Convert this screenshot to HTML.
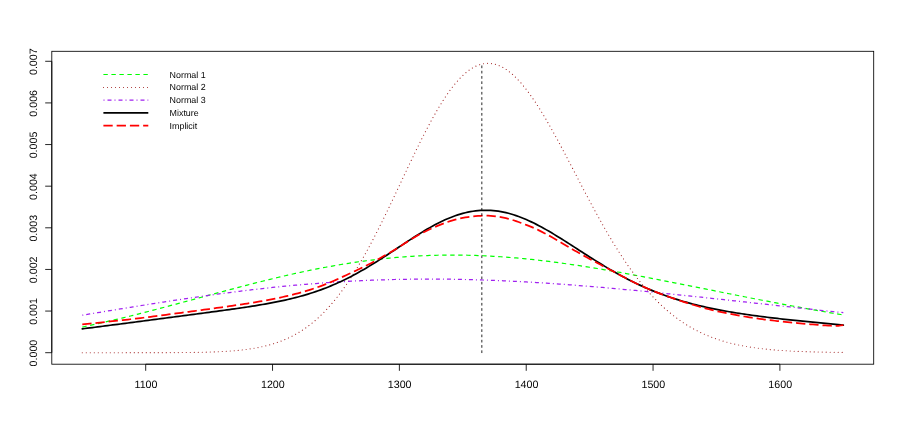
<!DOCTYPE html>
<html><head><meta charset="utf-8"><title>Mixture density plot</title>
<style>
html,body{margin:0;padding:0;background:#fff;}
body{width:900px;height:429px;overflow:hidden;position:relative;font-family:"Liberation Sans",sans-serif;}
</style></head><body>
<svg width="900" height="429" viewBox="0 0 900 429" style="position:absolute;left:0;top:0;display:block;will-change:transform">
<g fill="none" stroke-linecap="round" stroke-linejoin="round">
<path d="M82.28 327.05 L84.82 326.51 L87.35 325.97 L89.89 325.43 L92.43 324.87 L94.96 324.32 L97.50 323.75 L100.04 323.18 L102.57 322.61 L105.11 322.03 L107.65 321.44 L110.18 320.85 L112.72 320.26 L115.26 319.66 L117.80 319.05 L120.33 318.44 L122.87 317.83 L125.41 317.21 L127.94 316.58 L130.48 315.96 L133.02 315.33 L135.55 314.69 L138.09 314.05 L140.63 313.41 L143.16 312.76 L145.70 312.11 L148.24 311.46 L150.77 310.80 L153.31 310.14 L155.85 309.48 L158.38 308.81 L160.92 308.14 L163.46 307.47 L165.99 306.80 L168.53 306.13 L171.07 305.45 L173.60 304.77 L176.14 304.09 L178.68 303.41 L181.22 302.73 L183.75 302.04 L186.29 301.36 L188.83 300.67 L191.36 299.98 L193.90 299.30 L196.44 298.61 L198.97 297.92 L201.51 297.23 L204.05 296.55 L206.58 295.86 L209.12 295.17 L211.66 294.49 L214.19 293.80 L216.73 293.12 L219.27 292.44 L221.80 291.76 L224.34 291.08 L226.88 290.40 L229.41 289.73 L231.95 289.05 L234.49 288.38 L237.02 287.71 L239.56 287.05 L242.10 286.38 L244.64 285.72 L247.17 285.07 L249.71 284.41 L252.25 283.77 L254.78 283.12 L257.32 282.48 L259.86 281.84 L262.39 281.21 L264.93 280.58 L267.47 279.95 L270.00 279.33 L272.54 278.72 L275.08 278.11 L277.61 277.50 L280.15 276.91 L282.69 276.31 L285.22 275.72 L287.76 275.14 L290.30 274.57 L292.83 274.00 L295.37 273.43 L297.91 272.88 L300.44 272.33 L302.98 271.78 L305.52 271.25 L308.06 270.72 L310.59 270.19 L313.13 269.68 L315.67 269.17 L318.20 268.67 L320.74 268.18 L323.28 267.69 L325.81 267.22 L328.35 266.75 L330.89 266.29 L333.42 265.83 L335.96 265.39 L338.50 264.95 L341.03 264.53 L343.57 264.11 L346.11 263.70 L348.64 263.29 L351.18 262.90 L353.72 262.52 L356.25 262.14 L358.79 261.78 L361.33 261.42 L363.86 261.08 L366.40 260.74 L368.94 260.41 L371.48 260.09 L374.01 259.78 L376.55 259.48 L379.09 259.19 L381.62 258.91 L384.16 258.64 L386.70 258.38 L389.23 258.13 L391.77 257.89 L394.31 257.66 L396.84 257.43 L399.38 257.22 L401.92 257.02 L404.45 256.83 L406.99 256.65 L409.53 256.47 L412.06 256.31 L414.60 256.16 L417.14 256.02 L419.67 255.89 L422.21 255.76 L424.75 255.65 L427.28 255.55 L429.82 255.46 L432.36 255.37 L434.90 255.30 L437.43 255.24 L439.97 255.19 L442.51 255.14 L445.04 255.11 L447.58 255.09 L450.12 255.07 L452.65 255.07 L455.19 255.07 L457.73 255.09 L460.26 255.11 L462.80 255.15 L465.34 255.19 L467.87 255.25 L470.41 255.31 L472.95 255.38 L475.48 255.46 L478.02 255.55 L480.56 255.65 L483.09 255.76 L485.63 255.87 L488.17 256.00 L490.70 256.14 L493.24 256.28 L495.78 256.43 L498.32 256.59 L500.85 256.76 L503.39 256.94 L505.93 257.12 L508.46 257.32 L511.00 257.52 L513.54 257.73 L516.07 257.95 L518.61 258.17 L521.15 258.41 L523.68 258.65 L526.22 258.90 L528.76 259.15 L531.29 259.42 L533.83 259.69 L536.37 259.97 L538.90 260.25 L541.44 260.54 L543.98 260.84 L546.51 261.15 L549.05 261.46 L551.59 261.78 L554.12 262.11 L556.66 262.44 L559.20 262.78 L561.74 263.12 L564.27 263.47 L566.81 263.83 L569.35 264.19 L571.88 264.55 L574.42 264.93 L576.96 265.31 L579.49 265.69 L582.03 266.08 L584.57 266.47 L587.10 266.87 L589.64 267.27 L592.18 267.68 L594.71 268.09 L597.25 268.51 L599.79 268.93 L602.32 269.36 L604.86 269.79 L607.40 270.22 L609.93 270.66 L612.47 271.11 L615.01 271.55 L617.54 272.00 L620.08 272.45 L622.62 272.91 L625.16 273.37 L627.69 273.83 L630.23 274.30 L632.77 274.77 L635.30 275.24 L637.84 275.71 L640.38 276.19 L642.91 276.67 L645.45 277.15 L647.99 277.63 L650.52 278.12 L653.06 278.61 L655.60 279.10 L658.13 279.59 L660.67 280.08 L663.21 280.58 L665.74 281.08 L668.28 281.57 L670.82 282.07 L673.35 282.58 L675.89 283.08 L678.43 283.58 L680.96 284.09 L683.50 284.59 L686.04 285.10 L688.58 285.60 L691.11 286.11 L693.65 286.62 L696.19 287.13 L698.72 287.64 L701.26 288.15 L703.80 288.65 L706.33 289.16 L708.87 289.67 L711.41 290.18 L713.94 290.69 L716.48 291.20 L719.02 291.71 L721.55 292.22 L724.09 292.72 L726.63 293.23 L729.16 293.74 L731.70 294.24 L734.24 294.75 L736.77 295.25 L739.31 295.76 L741.85 296.26 L744.38 296.76 L746.92 297.26 L749.46 297.76 L752.00 298.26 L754.53 298.75 L757.07 299.25 L759.61 299.74 L762.14 300.23 L764.68 300.72 L767.22 301.21 L769.75 301.70 L772.29 302.19 L774.83 302.67 L777.36 303.15 L779.90 303.63 L782.44 304.11 L784.97 304.59 L787.51 305.06 L790.05 305.54 L792.58 306.01 L795.12 306.48 L797.66 306.94 L800.19 307.41 L802.73 307.87 L805.27 308.33 L807.80 308.79 L810.34 309.24 L812.88 309.69 L815.42 310.15 L817.95 310.59 L820.49 311.04 L823.03 311.48 L825.56 311.92 L828.10 312.36 L830.64 312.79 L833.17 313.23 L835.71 313.66 L838.25 314.09 L840.78 314.51 L843.32 314.93" stroke="#00ff00" stroke-width="1.2" stroke-dasharray="4.4 3.6" stroke-linecap="butt"/>
<path d="M82.28 352.70 L84.82 352.70 L87.35 352.70 L89.89 352.70 L92.43 352.70 L94.96 352.70 L97.50 352.70 L100.04 352.70 L102.57 352.70 L105.11 352.70 L107.65 352.70 L110.18 352.70 L112.72 352.70 L115.26 352.70 L117.80 352.70 L120.33 352.70 L122.87 352.70 L125.41 352.69 L127.94 352.69 L130.48 352.69 L133.02 352.69 L135.55 352.69 L138.09 352.69 L140.63 352.69 L143.16 352.68 L145.70 352.68 L148.24 352.68 L150.77 352.67 L153.31 352.67 L155.85 352.66 L158.38 352.66 L160.92 352.65 L163.46 352.64 L165.99 352.64 L168.53 352.63 L171.07 352.61 L173.60 352.60 L176.14 352.58 L178.68 352.57 L181.22 352.55 L183.75 352.53 L186.29 352.50 L188.83 352.47 L191.36 352.44 L193.90 352.40 L196.44 352.36 L198.97 352.31 L201.51 352.26 L204.05 352.20 L206.58 352.14 L209.12 352.07 L211.66 351.98 L214.19 351.89 L216.73 351.79 L219.27 351.68 L221.80 351.56 L224.34 351.42 L226.88 351.26 L229.41 351.10 L231.95 350.91 L234.49 350.70 L237.02 350.48 L239.56 350.23 L242.10 349.96 L244.64 349.66 L247.17 349.33 L249.71 348.98 L252.25 348.59 L254.78 348.17 L257.32 347.71 L259.86 347.21 L262.39 346.67 L264.93 346.08 L267.47 345.45 L270.00 344.76 L272.54 344.02 L275.08 343.23 L277.61 342.37 L280.15 341.46 L282.69 340.47 L285.22 339.42 L287.76 338.29 L290.30 337.09 L292.83 335.80 L295.37 334.44 L297.91 332.98 L300.44 331.44 L302.98 329.80 L305.52 328.07 L308.06 326.23 L310.59 324.29 L313.13 322.25 L315.67 320.10 L318.20 317.83 L320.74 315.45 L323.28 312.96 L325.81 310.34 L328.35 307.61 L330.89 304.75 L333.42 301.77 L335.96 298.67 L338.50 295.44 L341.03 292.08 L343.57 288.60 L346.11 284.99 L348.64 281.26 L351.18 277.40 L353.72 273.43 L356.25 269.33 L358.79 265.12 L361.33 260.79 L363.86 256.35 L366.40 251.80 L368.94 247.15 L371.48 242.41 L374.01 237.57 L376.55 232.64 L379.09 227.63 L381.62 222.55 L384.16 217.40 L386.70 212.19 L389.23 206.92 L391.77 201.62 L394.31 196.28 L396.84 190.91 L399.38 185.53 L401.92 180.14 L404.45 174.75 L406.99 169.37 L409.53 164.02 L412.06 158.70 L414.60 153.43 L417.14 148.21 L419.67 143.06 L422.21 137.98 L424.75 132.99 L427.28 128.10 L429.82 123.32 L432.36 118.66 L434.90 114.12 L437.43 109.73 L439.97 105.49 L442.51 101.40 L445.04 97.48 L447.58 93.74 L450.12 90.19 L452.65 86.82 L455.19 83.66 L457.73 80.71 L460.26 77.97 L462.80 75.46 L465.34 73.16 L467.87 71.10 L470.41 69.28 L472.95 67.69 L475.48 66.35 L478.02 65.25 L480.56 64.39 L483.09 63.78 L485.63 63.43 L488.17 63.31 L490.70 63.45 L493.24 63.83 L495.78 64.45 L498.32 65.31 L500.85 66.41 L503.39 67.75 L505.93 69.31 L508.46 71.10 L511.00 73.10 L513.54 75.32 L516.07 77.75 L518.61 80.38 L521.15 83.20 L523.68 86.20 L526.22 89.39 L528.76 92.74 L531.29 96.25 L533.83 99.92 L536.37 103.73 L538.90 107.68 L541.44 111.75 L543.98 115.93 L546.51 120.23 L549.05 124.62 L551.59 129.11 L554.12 133.67 L556.66 138.30 L559.20 142.99 L561.74 147.74 L564.27 152.53 L566.81 157.35 L569.35 162.20 L571.88 167.07 L574.42 171.94 L576.96 176.82 L579.49 181.69 L582.03 186.55 L584.57 191.39 L587.10 196.20 L589.64 200.97 L592.18 205.71 L594.71 210.40 L597.25 215.03 L599.79 219.62 L602.32 224.13 L604.86 228.59 L607.40 232.97 L609.93 237.28 L612.47 241.51 L615.01 245.66 L617.54 249.72 L620.08 253.70 L622.62 257.59 L625.16 261.39 L627.69 265.10 L630.23 268.71 L632.77 272.23 L635.30 275.65 L637.84 278.98 L640.38 282.21 L642.91 285.34 L645.45 288.37 L647.99 291.31 L650.52 294.16 L653.06 296.90 L655.60 299.56 L658.13 302.11 L660.67 304.58 L663.21 306.96 L665.74 309.24 L668.28 311.44 L670.82 313.55 L673.35 315.58 L675.89 317.52 L678.43 319.39 L680.96 321.17 L683.50 322.88 L686.04 324.51 L688.58 326.07 L691.11 327.55 L693.65 328.97 L696.19 330.33 L698.72 331.61 L701.26 332.84 L703.80 334.01 L706.33 335.11 L708.87 336.17 L711.41 337.16 L713.94 338.11 L716.48 339.01 L719.02 339.86 L721.55 340.66 L724.09 341.42 L726.63 342.14 L729.16 342.82 L731.70 343.46 L734.24 344.06 L736.77 344.63 L739.31 345.16 L741.85 345.67 L744.38 346.14 L746.92 346.59 L749.46 347.00 L752.00 347.40 L754.53 347.77 L757.07 348.11 L759.61 348.43 L762.14 348.74 L764.68 349.02 L767.22 349.28 L769.75 349.53 L772.29 349.76 L774.83 349.98 L777.36 350.18 L779.90 350.37 L782.44 350.54 L784.97 350.71 L787.51 350.86 L790.05 351.00 L792.58 351.13 L795.12 351.25 L797.66 351.36 L800.19 351.47 L802.73 351.56 L805.27 351.65 L807.80 351.74 L810.34 351.82 L812.88 351.89 L815.42 351.95 L817.95 352.01 L820.49 352.07 L823.03 352.12 L825.56 352.17 L828.10 352.21 L830.64 352.25 L833.17 352.29 L835.71 352.33 L838.25 352.36 L840.78 352.39 L843.32 352.41" stroke="#a52a2a" stroke-width="1.15" stroke-dasharray="0.01 3.99"/>
<path d="M82.28 315.19 L84.82 314.77 L87.35 314.36 L89.89 313.94 L92.43 313.52 L94.96 313.11 L97.50 312.69 L100.04 312.27 L102.57 311.86 L105.11 311.44 L107.65 311.02 L110.18 310.61 L112.72 310.19 L115.26 309.77 L117.80 309.36 L120.33 308.94 L122.87 308.53 L125.41 308.12 L127.94 307.70 L130.48 307.29 L133.02 306.88 L135.55 306.47 L138.09 306.06 L140.63 305.66 L143.16 305.25 L145.70 304.84 L148.24 304.44 L150.77 304.04 L153.31 303.64 L155.85 303.24 L158.38 302.84 L160.92 302.44 L163.46 302.05 L165.99 301.65 L168.53 301.26 L171.07 300.87 L173.60 300.48 L176.14 300.10 L178.68 299.71 L181.22 299.33 L183.75 298.95 L186.29 298.58 L188.83 298.20 L191.36 297.83 L193.90 297.46 L196.44 297.09 L198.97 296.73 L201.51 296.36 L204.05 296.01 L206.58 295.65 L209.12 295.29 L211.66 294.94 L214.19 294.59 L216.73 294.25 L219.27 293.91 L221.80 293.57 L224.34 293.23 L226.88 292.90 L229.41 292.56 L231.95 292.24 L234.49 291.91 L237.02 291.59 L239.56 291.28 L242.10 290.96 L244.64 290.65 L247.17 290.34 L249.71 290.04 L252.25 289.74 L254.78 289.45 L257.32 289.15 L259.86 288.86 L262.39 288.58 L264.93 288.30 L267.47 288.02 L270.00 287.75 L272.54 287.48 L275.08 287.21 L277.61 286.95 L280.15 286.69 L282.69 286.44 L285.22 286.19 L287.76 285.94 L290.30 285.70 L292.83 285.46 L295.37 285.23 L297.91 285.00 L300.44 284.77 L302.98 284.55 L305.52 284.33 L308.06 284.12 L310.59 283.91 L313.13 283.71 L315.67 283.51 L318.20 283.31 L320.74 283.12 L323.28 282.93 L325.81 282.75 L328.35 282.57 L330.89 282.40 L333.42 282.23 L335.96 282.06 L338.50 281.90 L341.03 281.75 L343.57 281.60 L346.11 281.45 L348.64 281.31 L351.18 281.17 L353.72 281.03 L356.25 280.90 L358.79 280.78 L361.33 280.66 L363.86 280.54 L366.40 280.43 L368.94 280.33 L371.48 280.22 L374.01 280.13 L376.55 280.03 L379.09 279.94 L381.62 279.86 L384.16 279.78 L386.70 279.70 L389.23 279.63 L391.77 279.56 L394.31 279.50 L396.84 279.44 L399.38 279.39 L401.92 279.34 L404.45 279.30 L406.99 279.26 L409.53 279.22 L412.06 279.19 L414.60 279.16 L417.14 279.14 L419.67 279.12 L422.21 279.11 L424.75 279.10 L427.28 279.09 L429.82 279.09 L432.36 279.09 L434.90 279.10 L437.43 279.11 L439.97 279.13 L442.51 279.14 L445.04 279.17 L447.58 279.20 L450.12 279.23 L452.65 279.26 L455.19 279.30 L457.73 279.35 L460.26 279.39 L462.80 279.45 L465.34 279.50 L467.87 279.56 L470.41 279.62 L472.95 279.69 L475.48 279.76 L478.02 279.84 L480.56 279.92 L483.09 280.00 L485.63 280.08 L488.17 280.17 L490.70 280.27 L493.24 280.36 L495.78 280.46 L498.32 280.57 L500.85 280.68 L503.39 280.79 L505.93 280.90 L508.46 281.02 L511.00 281.14 L513.54 281.26 L516.07 281.39 L518.61 281.52 L521.15 281.66 L523.68 281.80 L526.22 281.94 L528.76 282.08 L531.29 282.23 L533.83 282.38 L536.37 282.53 L538.90 282.69 L541.44 282.84 L543.98 283.01 L546.51 283.17 L549.05 283.34 L551.59 283.51 L554.12 283.68 L556.66 283.86 L559.20 284.04 L561.74 284.22 L564.27 284.40 L566.81 284.59 L569.35 284.78 L571.88 284.97 L574.42 285.17 L576.96 285.36 L579.49 285.56 L582.03 285.76 L584.57 285.97 L587.10 286.17 L589.64 286.38 L592.18 286.59 L594.71 286.80 L597.25 287.02 L599.79 287.24 L602.32 287.45 L604.86 287.68 L607.40 287.90 L609.93 288.12 L612.47 288.35 L615.01 288.58 L617.54 288.81 L620.08 289.04 L622.62 289.28 L625.16 289.51 L627.69 289.75 L630.23 289.99 L632.77 290.23 L635.30 290.47 L637.84 290.72 L640.38 290.96 L642.91 291.21 L645.45 291.46 L647.99 291.71 L650.52 291.96 L653.06 292.21 L655.60 292.47 L658.13 292.72 L660.67 292.98 L663.21 293.24 L665.74 293.50 L668.28 293.76 L670.82 294.02 L673.35 294.28 L675.89 294.54 L678.43 294.81 L680.96 295.07 L683.50 295.34 L686.04 295.60 L688.58 295.87 L691.11 296.14 L693.65 296.41 L696.19 296.68 L698.72 296.95 L701.26 297.22 L703.80 297.49 L706.33 297.77 L708.87 298.04 L711.41 298.32 L713.94 298.59 L716.48 298.86 L719.02 299.14 L721.55 299.42 L724.09 299.69 L726.63 299.97 L729.16 300.25 L731.70 300.53 L734.24 300.80 L736.77 301.08 L739.31 301.36 L741.85 301.64 L744.38 301.92 L746.92 302.20 L749.46 302.48 L752.00 302.76 L754.53 303.04 L757.07 303.31 L759.61 303.59 L762.14 303.87 L764.68 304.15 L767.22 304.43 L769.75 304.71 L772.29 304.99 L774.83 305.27 L777.36 305.55 L779.90 305.83 L782.44 306.11 L784.97 306.39 L787.51 306.67 L790.05 306.94 L792.58 307.22 L795.12 307.50 L797.66 307.78 L800.19 308.06 L802.73 308.33 L805.27 308.61 L807.80 308.88 L810.34 309.16 L812.88 309.44 L815.42 309.71 L817.95 309.98 L820.49 310.26 L823.03 310.53 L825.56 310.80 L828.10 311.08 L830.64 311.35 L833.17 311.62 L835.71 311.89 L838.25 312.16 L840.78 312.43 L843.32 312.70" stroke="#a020f0" stroke-width="1.25" stroke-dasharray="1 3 4 3" stroke-linecap="butt"/>
<path d="M82.28 328.81 L84.82 328.50 L87.35 328.18 L89.89 327.87 L92.43 327.55 L94.96 327.23 L97.50 326.90 L100.04 326.58 L102.57 326.26 L105.11 325.93 L107.65 325.61 L110.18 325.28 L112.72 324.96 L115.26 324.63 L117.80 324.30 L120.33 323.97 L122.87 323.64 L125.41 323.31 L127.94 322.98 L130.48 322.65 L133.02 322.31 L135.55 321.98 L138.09 321.65 L140.63 321.32 L143.16 320.98 L145.70 320.65 L148.24 320.31 L150.77 319.98 L153.31 319.65 L155.85 319.31 L158.38 318.98 L160.92 318.64 L163.46 318.31 L165.99 317.98 L168.53 317.64 L171.07 317.31 L173.60 316.98 L176.14 316.64 L178.68 316.31 L181.22 315.98 L183.75 315.64 L186.29 315.31 L188.83 314.98 L191.36 314.64 L193.90 314.31 L196.44 313.98 L198.97 313.64 L201.51 313.31 L204.05 312.97 L206.58 312.64 L209.12 312.30 L211.66 311.96 L214.19 311.63 L216.73 311.29 L219.27 310.94 L221.80 310.60 L224.34 310.26 L226.88 309.91 L229.41 309.56 L231.95 309.20 L234.49 308.84 L237.02 308.48 L239.56 308.12 L242.10 307.75 L244.64 307.37 L247.17 306.99 L249.71 306.60 L252.25 306.20 L254.78 305.80 L257.32 305.38 L259.86 304.96 L262.39 304.53 L264.93 304.09 L267.47 303.63 L270.00 303.17 L272.54 302.69 L275.08 302.20 L277.61 301.69 L280.15 301.16 L282.69 300.62 L285.22 300.06 L287.76 299.49 L290.30 298.89 L292.83 298.27 L295.37 297.63 L297.91 296.97 L300.44 296.28 L302.98 295.57 L305.52 294.84 L308.06 294.07 L310.59 293.28 L313.13 292.46 L315.67 291.62 L318.20 290.74 L320.74 289.83 L323.28 288.89 L325.81 287.92 L328.35 286.92 L330.89 285.88 L333.42 284.81 L335.96 283.71 L338.50 282.57 L341.03 281.40 L343.57 280.20 L346.11 278.96 L348.64 277.69 L351.18 276.39 L353.72 275.05 L356.25 273.68 L358.79 272.28 L361.33 270.85 L363.86 269.39 L366.40 267.90 L368.94 266.39 L371.48 264.85 L374.01 263.29 L376.55 261.70 L379.09 260.10 L381.62 258.48 L384.16 256.84 L386.70 255.18 L389.23 253.52 L391.77 251.85 L394.31 250.17 L396.84 248.48 L399.38 246.80 L401.92 245.12 L404.45 243.44 L406.99 241.77 L409.53 240.11 L412.06 238.47 L414.60 236.84 L417.14 235.24 L419.67 233.66 L422.21 232.10 L424.75 230.58 L427.28 229.09 L429.82 227.63 L432.36 226.22 L434.90 224.85 L437.43 223.52 L439.97 222.25 L442.51 221.02 L445.04 219.85 L447.58 218.74 L450.12 217.68 L452.65 216.69 L455.19 215.77 L457.73 214.90 L460.26 214.11 L462.80 213.39 L465.34 212.74 L467.87 212.16 L470.41 211.66 L472.95 211.23 L475.48 210.88 L478.02 210.60 L480.56 210.41 L483.09 210.29 L485.63 210.24 L488.17 210.28 L490.70 210.39 L493.24 210.59 L495.78 210.85 L498.32 211.20 L500.85 211.61 L503.39 212.10 L505.93 212.67 L508.46 213.30 L511.00 214.01 L513.54 214.78 L516.07 215.61 L518.61 216.51 L521.15 217.47 L523.68 218.49 L526.22 219.56 L528.76 220.69 L531.29 221.87 L533.83 223.10 L536.37 224.38 L538.90 225.70 L541.44 227.06 L543.98 228.45 L546.51 229.88 L549.05 231.35 L551.59 232.84 L554.12 234.36 L556.66 235.91 L559.20 237.47 L561.74 239.06 L564.27 240.65 L566.81 242.27 L569.35 243.89 L571.88 245.52 L574.42 247.15 L576.96 248.79 L579.49 250.43 L582.03 252.06 L584.57 253.69 L587.10 255.32 L589.64 256.94 L592.18 258.54 L594.71 260.14 L597.25 261.72 L599.79 263.29 L602.32 264.84 L604.86 266.37 L607.40 267.89 L609.93 269.38 L612.47 270.85 L615.01 272.30 L617.54 273.72 L620.08 275.12 L622.62 276.50 L625.16 277.85 L627.69 279.17 L630.23 280.47 L632.77 281.74 L635.30 282.98 L637.84 284.19 L640.38 285.38 L642.91 286.54 L645.45 287.67 L647.99 288.77 L650.52 289.85 L653.06 290.90 L655.60 291.92 L658.13 292.91 L660.67 293.88 L663.21 294.82 L665.74 295.74 L668.28 296.62 L670.82 297.49 L673.35 298.33 L675.89 299.14 L678.43 299.93 L680.96 300.70 L683.50 301.45 L686.04 302.17 L688.58 302.88 L691.11 303.56 L693.65 304.22 L696.19 304.86 L698.72 305.49 L701.26 306.09 L703.80 306.68 L706.33 307.25 L708.87 307.80 L711.41 308.34 L713.94 308.87 L716.48 309.37 L719.02 309.87 L721.55 310.35 L724.09 310.82 L726.63 311.27 L729.16 311.72 L731.70 312.15 L734.24 312.57 L736.77 312.98 L739.31 313.38 L741.85 313.77 L744.38 314.15 L746.92 314.53 L749.46 314.89 L752.00 315.25 L754.53 315.60 L757.07 315.94 L759.61 316.28 L762.14 316.60 L764.68 316.93 L767.22 317.24 L769.75 317.56 L772.29 317.86 L774.83 318.16 L777.36 318.46 L779.90 318.75 L782.44 319.04 L784.97 319.32 L787.51 319.60 L790.05 319.88 L792.58 320.15 L795.12 320.42 L797.66 320.69 L800.19 320.95 L802.73 321.21 L805.27 321.47 L807.80 321.72 L810.34 321.97 L812.88 322.22 L815.42 322.47 L817.95 322.71 L820.49 322.96 L823.03 323.20 L825.56 323.44 L828.10 323.67 L830.64 323.91 L833.17 324.14 L835.71 324.37 L838.25 324.60 L840.78 324.83 L843.32 325.06" stroke="#000" stroke-width="1.7"/>
<path d="M82.28 324.31 L84.82 324.07 L87.35 323.82 L89.89 323.57 L92.43 323.31 L94.96 323.06 L97.50 322.80 L100.04 322.54 L102.57 322.28 L105.11 322.02 L107.65 321.75 L110.18 321.49 L112.72 321.22 L115.26 320.94 L117.80 320.67 L120.33 320.39 L122.87 320.11 L125.41 319.82 L127.94 319.54 L130.48 319.25 L133.02 318.95 L135.55 318.66 L138.09 318.36 L140.63 318.05 L143.16 317.75 L145.70 317.44 L148.24 317.12 L150.77 316.81 L153.31 316.48 L155.85 316.16 L158.38 315.83 L160.92 315.49 L163.46 315.16 L165.99 314.82 L168.53 314.49 L171.07 314.15 L173.60 313.81 L176.14 313.48 L178.68 313.14 L181.22 312.80 L183.75 312.46 L186.29 312.12 L188.83 311.78 L191.36 311.43 L193.90 311.09 L196.44 310.75 L198.97 310.41 L201.51 310.06 L204.05 309.72 L206.58 309.37 L209.12 309.02 L211.66 308.68 L214.19 308.33 L216.73 307.97 L219.27 307.62 L221.80 307.27 L224.34 306.91 L226.88 306.55 L229.41 306.19 L231.95 305.82 L234.49 305.45 L237.02 305.08 L239.56 304.70 L242.10 304.32 L244.64 303.93 L247.17 303.54 L249.71 303.14 L252.25 302.73 L254.78 302.32 L257.32 301.89 L259.86 301.46 L262.39 301.02 L264.93 300.57 L267.47 300.10 L270.00 299.63 L272.54 299.14 L275.08 298.63 L277.61 298.11 L280.15 297.58 L282.69 297.02 L285.22 296.45 L287.76 295.86 L290.30 295.25 L292.83 294.62 L295.37 293.97 L297.91 293.30 L300.44 292.60 L302.98 291.88 L305.52 291.13 L308.06 290.36 L310.59 289.55 L313.13 288.73 L315.67 287.87 L318.20 286.98 L320.74 286.07 L323.28 285.12 L325.81 284.14 L328.35 283.13 L330.89 282.09 L333.42 281.02 L335.96 279.91 L338.50 278.77 L341.03 277.60 L343.57 276.41 L346.11 275.22 L348.64 274.05 L351.18 272.88 L353.72 271.71 L356.25 270.52 L358.79 269.31 L361.33 268.06 L363.86 266.79 L366.40 265.51 L368.94 264.24 L371.48 262.94 L374.01 261.59 L376.55 260.19 L379.09 258.76 L381.62 257.31 L384.16 255.84 L386.70 254.37 L389.23 252.90 L391.77 251.42 L394.31 249.91 L396.84 248.38 L399.38 246.80 L401.92 245.18 L404.45 243.55 L406.99 241.92 L409.53 240.30 L412.06 238.70 L414.60 237.14 L417.14 235.65 L419.67 234.25 L422.21 232.92 L424.75 231.66 L427.28 230.44 L429.82 229.26 L432.36 228.10 L434.90 226.96 L437.43 225.87 L439.97 224.82 L442.51 223.83 L445.04 222.90 L447.58 222.01 L450.12 221.18 L452.65 220.40 L455.19 219.67 L457.73 219.00 L460.26 218.40 L462.80 217.88 L465.34 217.43 L467.87 217.04 L470.41 216.71 L472.95 216.43 L475.48 216.19 L478.02 215.99 L480.56 215.82 L483.09 215.71 L485.63 215.69 L488.17 215.74 L490.70 215.87 L493.24 216.07 L495.78 216.34 L498.32 216.69 L500.85 217.11 L503.39 217.60 L505.93 218.17 L508.46 218.80 L511.00 219.51 L513.54 220.28 L516.07 221.11 L518.61 222.01 L521.15 222.96 L523.68 223.92 L526.22 224.89 L528.76 225.88 L531.29 226.91 L533.83 227.99 L536.37 229.13 L538.90 230.34 L541.44 231.61 L543.98 232.91 L546.51 234.26 L549.05 235.63 L551.59 237.04 L554.12 238.48 L556.66 239.94 L559.20 241.41 L561.74 242.90 L564.27 244.40 L566.81 245.91 L569.35 247.42 L571.88 248.92 L574.42 250.40 L576.96 251.86 L579.49 253.30 L582.03 254.72 L584.57 256.13 L587.10 257.52 L589.64 258.90 L592.18 260.27 L594.71 261.62 L597.25 262.97 L599.79 264.31 L602.32 265.65 L604.86 266.99 L607.40 268.33 L609.93 269.67 L612.47 271.02 L615.01 272.38 L617.54 273.74 L620.08 275.12 L622.62 276.50 L625.16 277.85 L627.69 279.17 L630.23 280.47 L632.77 281.74 L635.30 282.98 L637.84 284.19 L640.38 285.38 L642.91 286.54 L645.45 287.67 L647.99 288.77 L650.52 289.85 L653.06 290.90 L655.60 291.92 L658.13 292.91 L660.67 293.88 L663.21 294.82 L665.74 295.74 L668.28 296.63 L670.82 297.52 L673.35 298.40 L675.89 299.27 L678.43 300.13 L680.96 300.98 L683.50 301.81 L686.04 302.63 L688.58 303.43 L691.11 304.22 L693.65 305.00 L696.19 305.75 L698.72 306.49 L701.26 307.21 L703.80 307.91 L706.33 308.59 L708.87 309.24 L711.41 309.88 L713.94 310.49 L716.48 311.08 L719.02 311.64 L721.55 312.18 L724.09 312.70 L726.63 313.22 L729.16 313.72 L731.70 314.21 L734.24 314.69 L736.77 315.16 L739.31 315.62 L741.85 316.06 L744.38 316.50 L746.92 316.92 L749.46 317.33 L752.00 317.72 L754.53 318.11 L757.07 318.48 L759.61 318.84 L762.14 319.19 L764.68 319.52 L767.22 319.84 L769.75 320.16 L772.29 320.46 L774.83 320.75 L777.36 321.04 L779.90 321.32 L782.44 321.60 L784.97 321.87 L787.51 322.13 L790.05 322.39 L792.58 322.64 L795.12 322.89 L797.66 323.13 L800.19 323.37 L802.73 323.61 L805.27 323.83 L807.80 324.06 L810.34 324.28 L812.88 324.49 L815.42 324.71 L817.95 324.91 L820.49 325.11 L823.03 325.30 L825.56 325.46 L828.10 325.60 L830.64 325.72 L833.17 325.81 L835.71 325.87 L838.25 325.77 L840.78 325.46 L843.32 325.06" stroke="#ff0000" stroke-width="1.75" stroke-dasharray="9.3 3.95" stroke-linecap="butt"/>
<path d="M481.83 352.65 L481.83 65.90" stroke="#000" stroke-width="0.85" stroke-dasharray="1.9 3.375"/>
</g>
<g fill="none" stroke="#000" stroke-width="0.85" stroke-linecap="butt">
<rect x="51.80" y="51.30" width="821.90" height="312.90"/>
<path d="M145.70 364.20 H779.90"/>
<path d="M51.80 352.70 V61.29"/>
<path d="M145.70 364.20 V370.80"/>
<path d="M272.54 364.20 V370.80"/>
<path d="M399.38 364.20 V370.80"/>
<path d="M526.22 364.20 V370.80"/>
<path d="M653.06 364.20 V370.80"/>
<path d="M779.90 364.20 V370.80"/>
<path d="M51.80 352.70 H45.20"/>
<path d="M51.80 311.07 H45.20"/>
<path d="M51.80 269.44 H45.20"/>
<path d="M51.80 227.81 H45.20"/>
<path d="M51.80 186.18 H45.20"/>
<path d="M51.80 144.55 H45.20"/>
<path d="M51.80 102.92 H45.20"/>
<path d="M51.80 61.29 H45.20"/>
</g>
<g font-family="Liberation Sans, sans-serif" font-size="10.70" fill="#000" text-anchor="middle" text-rendering="geometricPrecision" opacity="0.99">
<text x="146.00" y="387.8">1100</text>
<text x="272.84" y="387.8">1200</text>
<text x="399.68" y="387.8">1300</text>
<text x="526.52" y="387.8">1400</text>
<text x="653.36" y="387.8">1500</text>
<text x="780.20" y="387.8">1600</text>
<text transform="translate(37.2 353.10) rotate(-90)">0.000</text>
<text transform="translate(37.2 311.47) rotate(-90)">0.001</text>
<text transform="translate(37.2 269.84) rotate(-90)">0.002</text>
<text transform="translate(37.2 228.21) rotate(-90)">0.003</text>
<text transform="translate(37.2 186.58) rotate(-90)">0.004</text>
<text transform="translate(37.2 144.95) rotate(-90)">0.005</text>
<text transform="translate(37.2 103.32) rotate(-90)">0.006</text>
<text transform="translate(37.2 61.69) rotate(-90)">0.007</text>
</g>
<g fill="none" stroke-linecap="round">
<path d="M103.4 74.50 H148.3" stroke="#00ff00" stroke-width="1.2" stroke-dasharray="4.4 3.6" stroke-linecap="butt"/>
<path d="M103.5 87.45 H148.3" stroke="#a52a2a" stroke-width="1.15" stroke-dasharray="0.01 3.99" stroke-linecap="round"/>
<path d="M103.5 100.00 H148.3" stroke="#a020f0" stroke-width="1.25" stroke-dasharray="1 3 4 3" stroke-linecap="butt"/>
<path d="M103.4 112.90 H148.3" stroke="#000" stroke-width="1.7" stroke-linecap="butt"/>
<path d="M103.4 125.60 H148.3" stroke="#ff0000" stroke-width="1.75" stroke-dasharray="9.3 3.95" stroke-linecap="butt"/>
</g>
<g font-family="Liberation Sans, sans-serif" font-size="8.90" fill="#000" text-rendering="geometricPrecision" opacity="0.99">
<text x="169.6" y="77.60">Normal 1</text>
<text x="169.6" y="90.40">Normal 2</text>
<text x="169.6" y="103.10">Normal 3</text>
<text x="169.6" y="115.80">Mixture</text>
<text x="169.6" y="128.70">Implicit</text>
</g>
</svg>
</body></html>
